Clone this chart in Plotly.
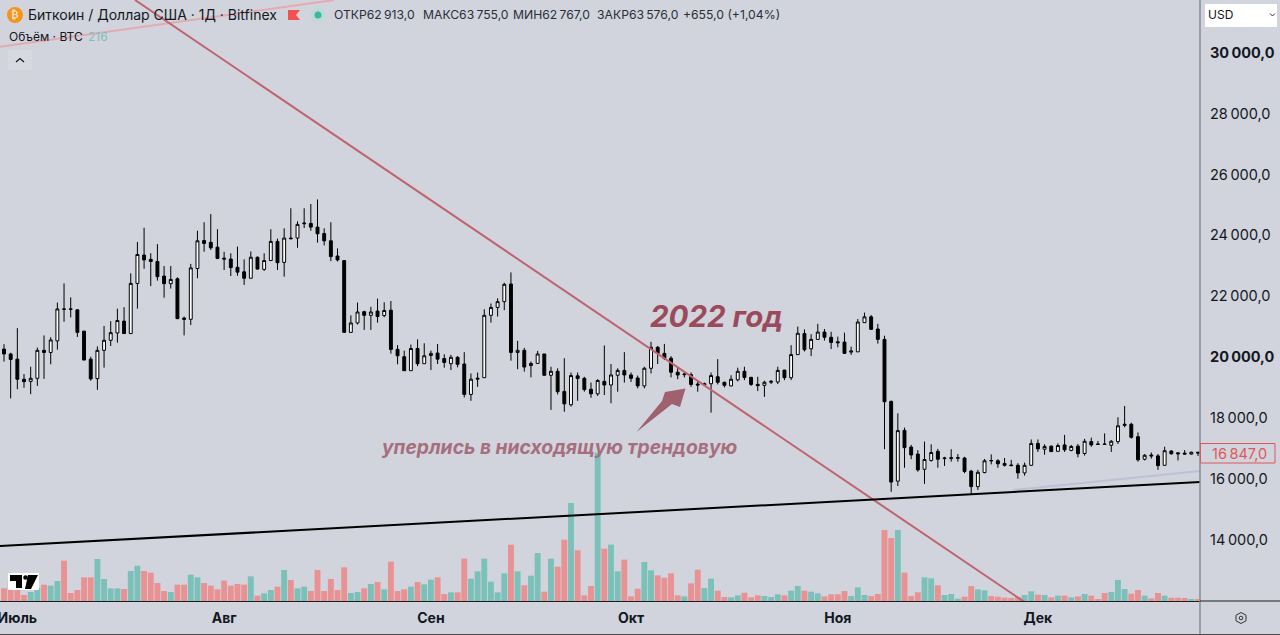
import pandas as pd
import plotly.graph_objects as go

dates = pd.date_range("2022-06-29", periods=180, freq="D")

opens = [
20260,20100,19930,19270,19200,19300,20220,20150,20530,21580,
21580,21550,20850,19930,19290,20220,20550,20790,21180,20770,
22420,23350,23210,23140,22660,22410,22570,21280,21240,22910,
23830,23770,23610,23250,23220,22950,22800,22590,23280,22880,
23170,23800,23110,23910,23910,24380,24390,24270,24060,23820,
23320,23170,20810,21120,21490,21370,21510,21360,21540,20250,
20010,19550,20280,19780,20050,20130,19950,19780,19990,19770,
18770,19270,19320,21370,21630,21820,22400,20150,20220,19720,
19790,20100,19400,19530,18870,18430,19380,19300,18940,18790,
19200,19080,19400,19560,19410,19310,19050,19630,20320,20120,
19960,19500,19420,19420,19110,19080,19120,19350,19170,19050,
19250,19530,19330,19100,19070,19170,19180,19570,19320,20080,
20770,20270,20580,20820,20650,20500,20490,20160,20170,21130,
21320,20920,20580,18540,15920,17590,17040,16810,16310,16600,
16900,16660,16660,16670,16680,16250,15740,16200,16600,16590,
16500,16450,16440,16190,16440,17160,16970,17070,16900,17110,
16930,17070,16830,17220,17140,17140,17100,17220,17750,17790,
17380,16640,16780,16750,16440,16910,16850,16840,16810,16870]
highs = [
20420,20140,20950,19440,19680,20310,20710,20650,21790,22420,
21960,21570,20860,20010,20350,21020,21180,21590,21640,22750,
23780,24250,23410,23710,22990,22990,22620,21330,23060,24150,
24430,24700,24200,23460,23410,23630,23210,23470,23300,23410,
24200,23890,24230,24890,24460,24890,25030,25180,24230,24430,
23570,23180,21370,21790,21520,21650,21920,21800,21840,20390,
20210,20410,20580,20450,20210,20430,20090,20070,20030,20160,
19460,19490,21570,21760,21930,22440,22780,20530,20300,19850,
20200,20100,19680,19630,19960,19490,19490,19350,19160,19270,
20380,19770,19630,20160,19490,19390,19680,20500,20360,20430,
20030,19660,19520,19490,19220,19160,19490,19930,19190,19400,
19650,19680,19350,19350,19220,19240,19680,19580,20390,21000,
20910,20750,21090,20920,20830,20670,20800,20340,21250,21460,
21380,21090,20700,18570,18150,17680,17110,16940,17220,17130,
16980,16720,16970,16810,16720,16290,16290,16650,16800,16640,
16680,16620,16510,16530,17290,17290,17130,17090,17160,17440,
17110,17140,17310,17350,17240,17490,17270,18020,18390,17840,
17520,16810,16860,16810,17050,16940,16860,16940,16890,16880]
lows = [
19850,18640,18940,18990,18780,19050,19280,19760,20240,21160,
21300,20660,19900,19220,18920,19650,20360,20470,20770,20770,
21590,22900,22330,22510,21950,22250,21260,20710,21050,22590,
23460,23520,23220,22860,22660,22670,22370,22580,22880,22830,
23160,22860,22640,23870,23590,24240,24150,23760,23670,23150,
23140,20800,20800,21070,20890,20890,21130,21310,20110,19760,
19550,19550,19700,19780,19570,19770,19650,19570,19660,18670,
18560,19020,19310,21130,21330,21540,19880,19600,19520,19330,
19770,19390,18260,18770,18200,18370,18560,18860,18660,18720,
18750,18480,18860,19160,19180,18970,18970,19460,19770,19900,
19330,19270,19330,19020,18860,19060,18170,19100,19000,19040,
19200,19240,19050,18880,18690,19110,19110,19240,19240,20070,
20180,20030,20560,20540,20260,20320,20100,20070,20170,21120,
20890,20440,16970,15570,15760,16360,16640,16230,15830,16560,
16360,16420,16560,16560,16180,15500,15630,16180,16470,16360,
16400,16430,16000,16100,16430,16880,16790,16880,16890,16880,
16900,16700,16760,17050,17120,17120,16880,17140,17690,17320,
16560,16600,16660,16290,16430,16790,16600,16800,16790,16750]
closes = [
20100,19920,19270,19190,19300,20220,20150,20560,21580,21570,
21570,20810,19900,19280,20220,20550,20800,21200,20770,22420,
23370,23190,23140,22640,22410,22550,21260,21240,22930,23820,
23730,23590,23240,23220,22940,22790,22590,23280,22890,23170,
23800,23100,23910,23890,24360,24400,24270,24050,23820,23300,
23190,20810,21120,21480,21370,21480,21330,21530,20250,20040,
19550,20280,19780,20040,20120,19930,19820,19990,19760,18770,
19270,19300,21370,21630,21820,22390,20150,20220,19670,19790,
20100,19400,19530,18860,18460,19390,19290,18930,18790,19230,
19080,19410,19560,19410,19300,19050,19630,20320,20120,19960,
19500,19410,19440,19100,19080,19120,19390,19170,19070,19270,
19530,19330,19100,19060,19170,19200,19560,19320,20080,20780,
20240,20580,20820,20650,20480,20470,20120,20200,21150,21320,
20910,20580,18530,15890,17580,17020,16780,16290,16630,16860,
16640,16680,16690,16690,16240,15740,16210,16590,16590,16490,
16440,16430,16190,16440,17160,16980,17060,16890,17090,16950,
17060,16820,17230,17110,17130,17130,17230,17740,17790,17360,
16620,16770,16750,16430,16920,16820,16820,16810,16870,16847]
volumes = [
1900,2900,1650,900,1350,1950,2450,2300,3000,6050,
1200,1650,3550,3550,6300,3300,1900,1900,1800,4500,
5300,4500,4250,2700,1500,1350,2450,2450,3950,3550,
2700,2300,1750,3050,2300,2550,2450,3700,800,1150,
1650,2150,4650,3150,1900,2150,1500,4650,1500,3300,
1650,5050,1200,1350,1900,2550,2850,1750,5900,1500,
1750,2150,2850,2500,3200,3550,1050,1300,1300,6350,
3350,4450,6350,2900,1300,4150,8450,4450,2350,3800,
7200,1400,6350,5150,9200,14700,7600,850,2250,22250,
7850,8450,4450,6200,700,1850,5850,4600,3850,3500,
4150,850,700,2650,4700,1950,3350,1550,600,550,
850,1250,550,850,750,600,1000,850,1550,2250,
1550,1400,1150,700,1000,1000,1500,750,2050,900,
750,1050,10650,9450,10650,4250,750,1300,3550,3400,
2350,900,1050,350,650,2250,1750,1600,750,650,
500,450,600,900,1450,950,900,550,800,800,
550,700,1050,800,300,1200,1350,3150,1800,1100,
1650,800,400,1200,800,500,500,450,250,216]

month_dates = ["2022-07-01","2022-08-01","2022-09-01","2022-10-01","2022-11-01","2022-12-01"]
month_labels = ["<b>Июль</b>","<b>Авг</b>","<b>Сен</b>","<b>Окт</b>","<b>Ноя</b>","<b>Дек</b>"]
price_ticks = [14000,16000,18000,20000,22000,24000,26000,28000,30000]
price_labels = ["14\u2009000,0","16\u2009000,0","18\u2009000,0","<b>20\u2009000,0</b>","22\u2009000,0",
                "24\u2009000,0","26\u2009000,0","28\u2009000,0","<b>30\u2009000,0</b>"]

red_x, red_y = ["2022-07-18 15:22","2022-11-29 05:00"], [31735,11914]
black_x, black_y = ["2022-06-28 09:36","2022-12-25 07:12"], [13787,15891]
blue_x, blue_y = ["2022-11-27 07:00","2022-12-25 07:12"], [15628,16253]
pink_x, pink_y = ["2022-06-28 09:36","2022-08-17 12:00"], [30200,31735]

BG = "#D1D4DC"
W, H = 1280, 635
fx = lambda p: p / W
fy = lambda p: 1 - p / H

fig = go.Figure()
vol_colors = ["#7CC0BA" if c >= o else "#E89294" for o, c in zip(opens, closes)]
fig.add_trace(go.Bar(x=dates, y=volumes, marker=dict(color=vol_colors, line_width=0),
                     yaxis="y", showlegend=False))
fig.add_trace(go.Candlestick(x=dates, open=opens, high=highs, low=lows, close=closes, yaxis="y2",
    increasing=dict(line=dict(color="#000000", width=1), fillcolor="#FFFFFF"),
    decreasing=dict(line=dict(color="#000000", width=1), fillcolor="#000000"),
    whiskerwidth=0, showlegend=False))
for xs, ys, col, wd in [(pink_x, pink_y, "#E3AAB2", 2), (blue_x, blue_y, "#BCC1D6", 2),
                        (red_x, red_y, "#BF646E", 2), (black_x, black_y, "#000000", 2)]:
    fig.add_trace(go.Scatter(x=xs, y=ys, mode="lines", line=dict(color=col, width=wd),
                             yaxis="y2", showlegend=False))

TXT = "#131722"
def note(text, x, y, size, color=TXT, anchor="left", font="Inter", **kw):
    fig.add_annotation(text=text, x=fx(x), y=fy(y), xref="paper", yref="paper", showarrow=False,
                       xanchor=anchor, yanchor="middle", font=dict(size=size, color=color, family=font),
                       borderpad=0, **kw)

note("Биткоин / Доллар США · 1Д · Bitfinex", 27, 15, 14)
note("ОТКР62\u2009913,0", 333, 15, 12.2, "#2A2E39")
note("МАКС63\u2009755,0", 422, 15, 12.2, "#2A2E39")
note("МИН62\u2009767,0", 512, 15, 12.2, "#2A2E39")
note("ЗАКР63\u2009576,0", 596, 15, 12.2, "#2A2E39")
note("+655,0 (+1,04%)", 682, 15, 12.2, "#2A2E39")
note("Объём · BTC", 8, 37, 12)
note("216", 87, 37, 12, "#7CC0BA")
note("₿", 15, 15, 11, "#FFFFFF", anchor="center", font="DejaVu Sans")
note("<b><i>2022 год</i></b>", 649, 316, 29.5, "#9A4A5A")
note("<b><i>уперлись в нисходящую трендовую</i></b>", 380, 447, 19.3, "#A66E7E")
note("USD", 1207, 15, 12)
note("16\u2009847,0", 1239, 453, 14.5, "#E0575B", anchor="center")

def rect(x0, y0, x1, y1, fill, line=None, width=0):
    fig.add_shape(type="rect", xref="paper", yref="paper", x0=fx(x0), x1=fx(x1), y0=fy(y0), y1=fy(y1),
                  fillcolor=fill, line=dict(color=line or fill, width=width), layer="above")
def circle(x, y, r, fill):
    fig.add_shape(type="circle", xref="paper", yref="paper", x0=fx(x-r), x1=fx(x+r), y0=fy(y-r), y1=fy(y+r),
                  fillcolor=fill, line=dict(width=0), layer="above")
def poly(points, fill=None, line=None, width=0, closed=True):
    d = "M " + " L ".join(f"{fx(a):.5f} {fy(b):.5f}" for a, b in points) + (" Z" if closed else "")
    fig.add_shape(type="path", xref="paper", yref="paper", path=d, fillcolor=fill or "rgba(0,0,0,0)",
                  line=dict(color=line or "rgba(0,0,0,0)", width=width), layer="above")
def segment(x0, y0, x1, y1, color, width=1):
    fig.add_shape(type="line", xref="paper", yref="paper", x0=fx(x0), x1=fx(x1), y0=fy(y0), y1=fy(y1),
                  line=dict(color=color, width=width), layer="above")

circle(15, 15, 8, "#F7931A")
circle(318, 15, 7.5, "#BFD8D8")
circle(318, 15, 3.5, "#3FB6A0")
poly([(288, 10), (300, 10), (296, 15), (300, 20), (288, 20)], fill="#F4504F")
rect(8, 50, 32, 70, "#D6D9E0")
poly([(16, 62), (20, 58.5), (24, 62)], line="#131722", width=1.2, closed=False)

segment(1200, 0, 1200, 635, "#868A98", 1.5)
segment(1200, 601, 1280, 601, "#1c1c1c", 1)
segment(0, 634.5, 1280, 634.5, "#4A4A50", 1)
rect(1205, 4, 1277, 27, "#FFFFFF")
poly([(1270, 13.5), (1272.5, 16), (1275, 13.5)], line="#333333", width=1, closed=False)
rect(1200.5, 443.5, 1275, 463, "rgba(0,0,0,0)", line="#E0575B", width=1)

rect(8, 573, 39, 590, "#FFFFFF")
poly([(10, 575), (22, 575), (22, 588), (16, 588), (16, 581), (10, 581)], fill="#000000")
poly([(28, 575), (38, 575), (31, 589), (25, 589)], fill="#000000")
circle(25.5, 577.5, 2.3, "#000000")

poly([(636.5, 432), (662, 401), (665, 392), (685.5, 388.5), (680, 407), (672, 404)], fill="#A0616F")
hexa = [(1241, 612.5), (1246, 615.2), (1246, 620.8), (1241, 623.5), (1236, 620.8), (1236, 615.2)]
poly(hexa, line="#333333", width=1)
fig.add_shape(type="circle", xref="paper", yref="paper", x0=fx(1239.2), x1=fx(1242.8), y0=fy(616.2), y1=fy(619.8),
              line=dict(color="#333333", width=1), layer="above")

fig.update_layout(
    width=W, height=H, autosize=False, margin=dict(l=0, r=0, t=0, b=0),
    paper_bgcolor=BG, plot_bgcolor=BG, bargap=0.12, boxgap=0.38, hovermode=False, showlegend=False,
    xaxis=dict(type="date", domain=[0, 1200 / W], range=["2022-06-28 09:36", "2022-12-25 07:12"],
               rangeslider=dict(visible=False), tickmode="array", tickvals=month_dates, ticktext=month_labels,
               ticks="", showgrid=False, zeroline=False, showline=True, linecolor="#1c1c1c", linewidth=1,
               ticklabeloverflow="allow", automargin=False,
               tickfont=dict(family="Inter", size=14, color=TXT), ticklabelstandoff=4),
    yaxis=dict(domain=[1 - 601 / H, 1], range=[0, 90150], visible=False, fixedrange=True, automargin=False),
    yaxis2=dict(domain=[1 - 601 / H, 1], range=[11980, 31735], overlaying="y", side="right", anchor="x",
                tickmode="array", tickvals=price_ticks, ticktext=price_labels, ticks="", showgrid=False,
                zeroline=False, showline=False, tickfont=dict(family="Inter", size=14.5, color=TXT),
                ticklabelstandoff=9, automargin=False),
)
fig.write_html("out.html", config=dict(displayModeBar=False),
               post_script="document.body.style.margin='0';document.body.style.overflow='hidden';")
